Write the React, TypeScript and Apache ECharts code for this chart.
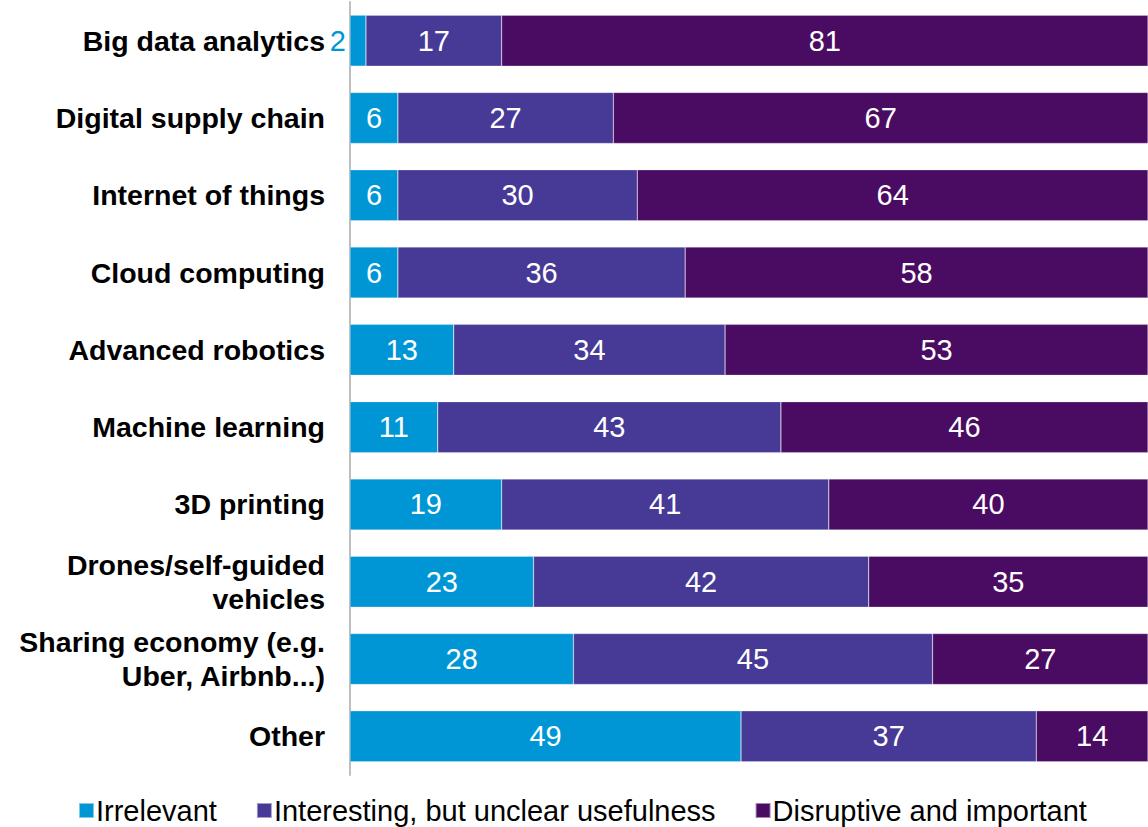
import React, { useEffect, useRef } from "react";
import * as echarts from "echarts";

const categories = [
  "Big data analytics",
  "Digital supply chain",
  "Internet of things",
  "Cloud computing",
  "Advanced robotics",
  "Machine learning",
  "3D printing",
  "Drones/self-guided\nvehicles",
  "Sharing economy (e.g.\nUber, Airbnb...)",
  "Other",
];
const irrelevant = [2, 6, 6, 6, 13, 11, 19, 23, 28, 49];
const interesting = [17, 27, 30, 36, 34, 43, 41, 42, 45, 37];
const disruptive = [81, 67, 64, 58, 53, 46, 40, 35, 27, 14];
const seriesNames = ["Irrelevant", "Interesting, but unclear usefulness", "Disruptive and important"];
const colors = ["#0096D6", "#463A96", "#4A0C62"];

export default function App() {
  const ref = useRef<HTMLDivElement>(null);
  useEffect(() => {
    if (!ref.current) return;
    const chart = echarts.init(ref.current, null, { renderer: "svg" });
    const labelBase = {
      show: true,
      position: "inside",
      color: "#ffffff",
      fontSize: 29,
      fontFamily: "Liberation Sans, Arial, sans-serif",
    };
    const mk = (name: string, data: number[], color: string, idx: number) => ({
      name,
      type: "bar",
      stack: "total",
      barCategoryGap: "34%",
      itemStyle: { color, borderColor: "rgba(255,255,255,0.5)", borderWidth: 0.5 },
      label: labelBase,
      data: data.map((v) =>
        idx === 0 && v < 4
          ? { value: v, label: { position: "left", distance: 4, color: "#0096D6" } }
          : v
      ),
    });
    chart.setOption({
      animation: false,
      grid: { left: 350, right: 0, top: 2, height: 773, containLabel: false },
      legend: {
        data: seriesNames,
        left: 78,
        top: 796,
        icon: "rect",
        itemWidth: 15,
        itemHeight: 15,
        itemGap: 39,
        padding: 0,
        textStyle: {
          fontSize: 29,
          lineHeight: 28,
          color: "#000",
          fontFamily: "Liberation Sans, Arial, sans-serif",
          padding: [0, 0, 0, -3],
        },
      },
      xAxis: { type: "value", min: 0, max: 100, show: false },
      yAxis: {
        type: "category",
        data: categories,
        inverse: true,
        axisLine: { show: true, lineStyle: { color: "#BFBFBF", width: 2 } },
        axisTick: { show: false },
        axisLabel: {
          margin: 25,
          fontSize: 28.5,
          fontWeight: "bold",
          color: "#000",
          lineHeight: 34,
          align: "right",
          fontFamily: "Liberation Sans, Arial, sans-serif",
        },
      },
      series: [
        mk(seriesNames[0], irrelevant, colors[0], 0),
        mk(seriesNames[1], interesting, colors[1], 1),
        mk(seriesNames[2], disruptive, colors[2], 2),
      ],
    });
    return () => chart.dispose();
  }, []);
  return (
    <div
      ref={ref}
      style={{ position: "fixed", left: 0, top: 0, width: 1148, height: 827, background: "#fff" }}
    />
  );
}
